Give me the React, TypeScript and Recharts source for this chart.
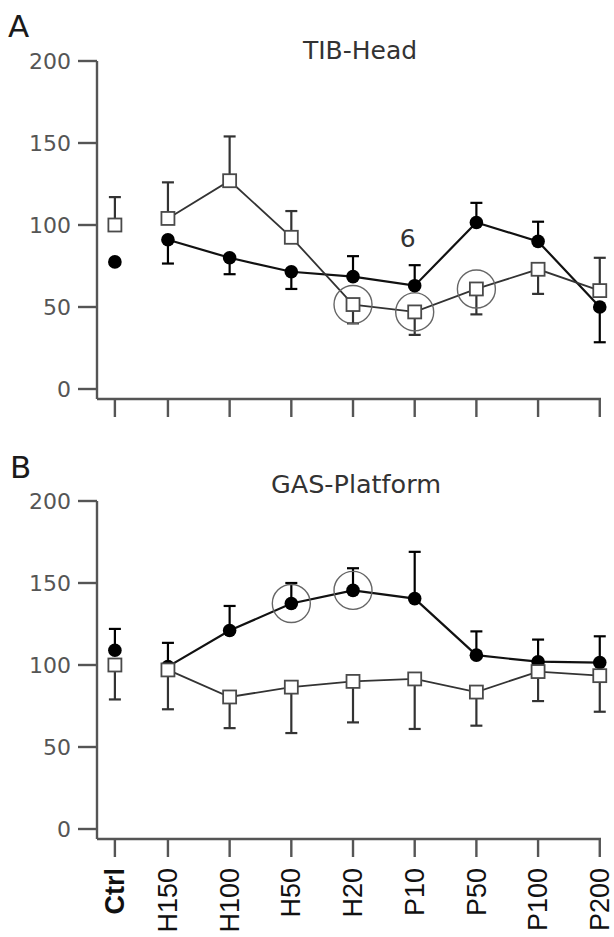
import React from 'react';
import { LineChart, Line, XAxis, YAxis, ErrorBar, ReferenceDot } from 'recharts';

// ---------- shared categories / ticks ----------
const categories = ['Ctrl', 'H150', 'H100', 'H50', 'H20', 'P10', 'P50', 'P100', 'P200'];
const yTicks = [0, 50, 100, 150, 200];

// ---------- Panel A: TIB-Head ----------
const tibOpen = [100, 104, 127, 92.5, 51.5, 47, 61, 73, 60];
const tibOpenErrLow = [0, 0, 0, 0, 11.5, 14, 15.5, 15, 0];
const tibOpenErrHigh = [17, 22, 27, 16, 0, 0, 0, 0, 20];
const tibFilled = [77.5, 91, 80, 71.5, 68.5, 63, 101.5, 90, 50];
const tibFilledErrLow = [0, 14.5, 10, 10.5, 0, 0, 0, 0, 21.5];
const tibFilledErrHigh = [0, 0, 0, 0, 12.5, 12.5, 12, 12, 0];
const tibOpenCircled = [false, false, false, false, true, true, true, false, false];
const tibFilledCircled = [false, false, false, false, false, false, false, false, false];
const tibNote = { category: 'P10', value: 92, text: '6' };

// ---------- Panel B: GAS-Platform ----------
const gasOpen = [100, 97, 80.5, 86.5, 90, 91.5, 83.5, 96, 93.5];
const gasOpenErrLow = [21, 24, 19, 28, 25, 30.5, 20.5, 18, 22];
const gasOpenErrHigh = [0, 0, 0, 0, 0, 0, 0, 0, 0];
const gasFilled = [109, 99, 121, 137.5, 145.5, 140.5, 106, 102, 101.5];
const gasFilledErrLow = [0, 0, 0, 0, 0, 0, 0, 0, 0];
const gasFilledErrHigh = [13, 14.5, 15, 12.5, 13.5, 28.5, 14.5, 13.5, 16];
const gasOpenCircled = [false, false, false, false, false, false, false, false, false];
const gasFilledCircled = [false, false, false, true, true, false, false, false, false];

// layout: control group is set slightly apart from the sequence
const CTRL_POS = 0.14;
const xPos = (i: number) => (i === 0 ? CTRL_POS : i);
const xDomain = [-0.15, 8.02];
const xTicks = categories.map((_, i) => xPos(i));

function buildRows(
  open: number[], openLow: number[], openHigh: number[],
  filled: number[], filledLow: number[], filledHigh: number[],
) {
  return categories.map((c, i) => ({
    x: xPos(i),
    label: c,
    open: open[i],
    openPath: i === 0 ? null : open[i],
    openErr: [openLow[i], openHigh[i]],
    filled: filled[i],
    filledPath: i === 0 ? null : filled[i],
    filledErr: [filledLow[i], filledHigh[i]],
  }));
}

const rowsA = buildRows(tibOpen, tibOpenErrLow, tibOpenErrHigh, tibFilled, tibFilledErrLow, tibFilledErrHigh);
const rowsB = buildRows(gasOpen, gasOpenErrLow, gasOpenErrHigh, gasFilled, gasFilledErrLow, gasFilledErrHigh);

const AXIS = '#555';
const SQ = 13;

const SquareDot = (props: any) => {
  const { cx, cy, index } = props;
  if (cx == null || cy == null || isNaN(cx) || isNaN(cy)) return <g key={`sq-${index}`} />;
  return (
    <rect key={`sq-${index}`} x={cx - SQ / 2} y={cy - SQ / 2} width={SQ} height={SQ}
      fill="#fff" stroke="#4a4a4a" strokeWidth={1.8} />
  );
};

const labelFor = (v: number) => {
  const i = xTicks.findIndex((t) => Math.abs(t - v) < 1e-6);
  return i >= 0 ? categories[i] : '';
};

const XTick = (props: any) => {
  const { x, y, payload, show } = props;
  if (!show) return <g />;
  const text = labelFor(payload.value);
  return (
    <text x={x} y={y + 9} transform={`rotate(-90, ${x}, ${y + 9})`} textAnchor="end" dy="0.34em"
      fontFamily="'Liberation Sans', Arial, sans-serif" fontSize={27}
      fontWeight={text === 'Ctrl' ? 700 : 400} fill="#111">
      {text}
    </text>
  );
};

type PanelProps = {
  rows: any[];
  height: number;
  showLabels: boolean;
  openCircled: boolean[];
  filledCircled: boolean[];
  note?: { category: string; value: number; text: string };
};

const Panel = ({ rows, height, showLabels, openCircled, filledCircled, note }: PanelProps) => {
  const noteIdx = note ? categories.indexOf(note.category) : -1;
  return (
    <LineChart width={614} height={height} data={rows}
      margin={{ top: 61, right: 13, bottom: 0, left: 0 }}>
      <XAxis type="number" dataKey="x" domain={xDomain} ticks={xTicks} interval={0}
        height={height - 61 - 338}
        axisLine={{ stroke: AXIS, strokeWidth: 2.4 }}
        tickLine={{ stroke: AXIS, strokeWidth: 2.4 }}
        tickSize={18}
        tick={<XTick show={showLabels} />} />
      <YAxis type="number" domain={[-6.1, 200]} ticks={yTicks} interval={0} width={97}
        axisLine={{ stroke: AXIS, strokeWidth: 2.4 }}
        tickLine={{ stroke: AXIS, strokeWidth: 2.4 }}
        tickSize={19} tickMargin={7}
        tick={{ fill: '#555', fontSize: 22, fontFamily: "'DejaVu Sans', sans-serif" }} />
      <Line dataKey="filledPath" stroke="#111" strokeWidth={2.2} dot={false} activeDot={false}
        connectNulls={false} isAnimationActive={false} />
      <Line dataKey="openPath" stroke="#333" strokeWidth={1.8} dot={false} activeDot={false}
        connectNulls={false} isAnimationActive={false} />
      <Line dataKey="filled" stroke="none" activeDot={false} isAnimationActive={false}
        dot={{ r: 6.8, fill: '#000', stroke: '#000', strokeWidth: 0 }}>
        <ErrorBar dataKey="filledErr" direction="y" width={6} stroke="#000" strokeWidth={2.2} />
      </Line>
      <Line dataKey="open" stroke="none" activeDot={false} isAnimationActive={false}
        dot={<SquareDot />}>
        <ErrorBar dataKey="openErr" direction="y" width={6} stroke="#333" strokeWidth={2.2} />
      </Line>
      {rows.map((r, i) => (openCircled[i] ? (
        <ReferenceDot key={`ro-${i}`} x={r.x} y={r.open} r={19} fill="none"
          stroke="#666" strokeWidth={1.4} ifOverflow="visible" />
      ) : null))}
      {rows.map((r, i) => (filledCircled[i] ? (
        <ReferenceDot key={`rf-${i}`} x={r.x} y={r.filled} r={19} fill="none"
          stroke="#666" strokeWidth={1.4} ifOverflow="visible" />
      ) : null))}
      {note && noteIdx >= 0 ? (
        <ReferenceDot x={xPos(noteIdx)} y={note.value} r={1} ifOverflow="visible"
          shape={(p: any) => (
            <text x={p.cx - 7} y={p.cy} dy="0.36em" textAnchor="middle" fontSize={25}
              fontFamily="'DejaVu Sans', sans-serif" fill="#333">{note.text}</text>
          )} />
      ) : null}
    </LineChart>
  );
};

export default function App() {
  return (
    <div style={{ position: 'absolute', left: 0, top: 0, width: 614, height: 937, background: '#fff' }}>
      <div style={{ position: 'absolute', left: 0, top: 0 }}>
        <Panel rows={rowsA} height={440} showLabels={false}
          openCircled={tibOpenCircled} filledCircled={tibFilledCircled} note={tibNote} />
      </div>
      <div style={{ position: 'absolute', left: 0, top: 440 }}>
        <Panel rows={rowsB} height={497} showLabels={true}
          openCircled={gasOpenCircled} filledCircled={gasFilledCircled} />
      </div>
      <svg width={614} height={937} style={{ position: 'absolute', left: 0, top: 0, pointerEvents: 'none' }}>
        <text x={8} y={37} fontSize={31} fontFamily="'DejaVu Sans', sans-serif" fill="#1a1a1a">A</text>
        <text x={360} y={59} textAnchor="middle" fontSize={25} fontFamily="'DejaVu Sans', sans-serif" fill="#333">TIB-Head</text>
        <text x={10} y={478} fontSize={31} fontFamily="'DejaVu Sans', sans-serif" fill="#1a1a1a">B</text>
        <text x={356} y={493} textAnchor="middle" fontSize={25.5} fontFamily="'DejaVu Sans', sans-serif" fill="#333">GAS-Platform</text>
      </svg>
    </div>
  );
}
